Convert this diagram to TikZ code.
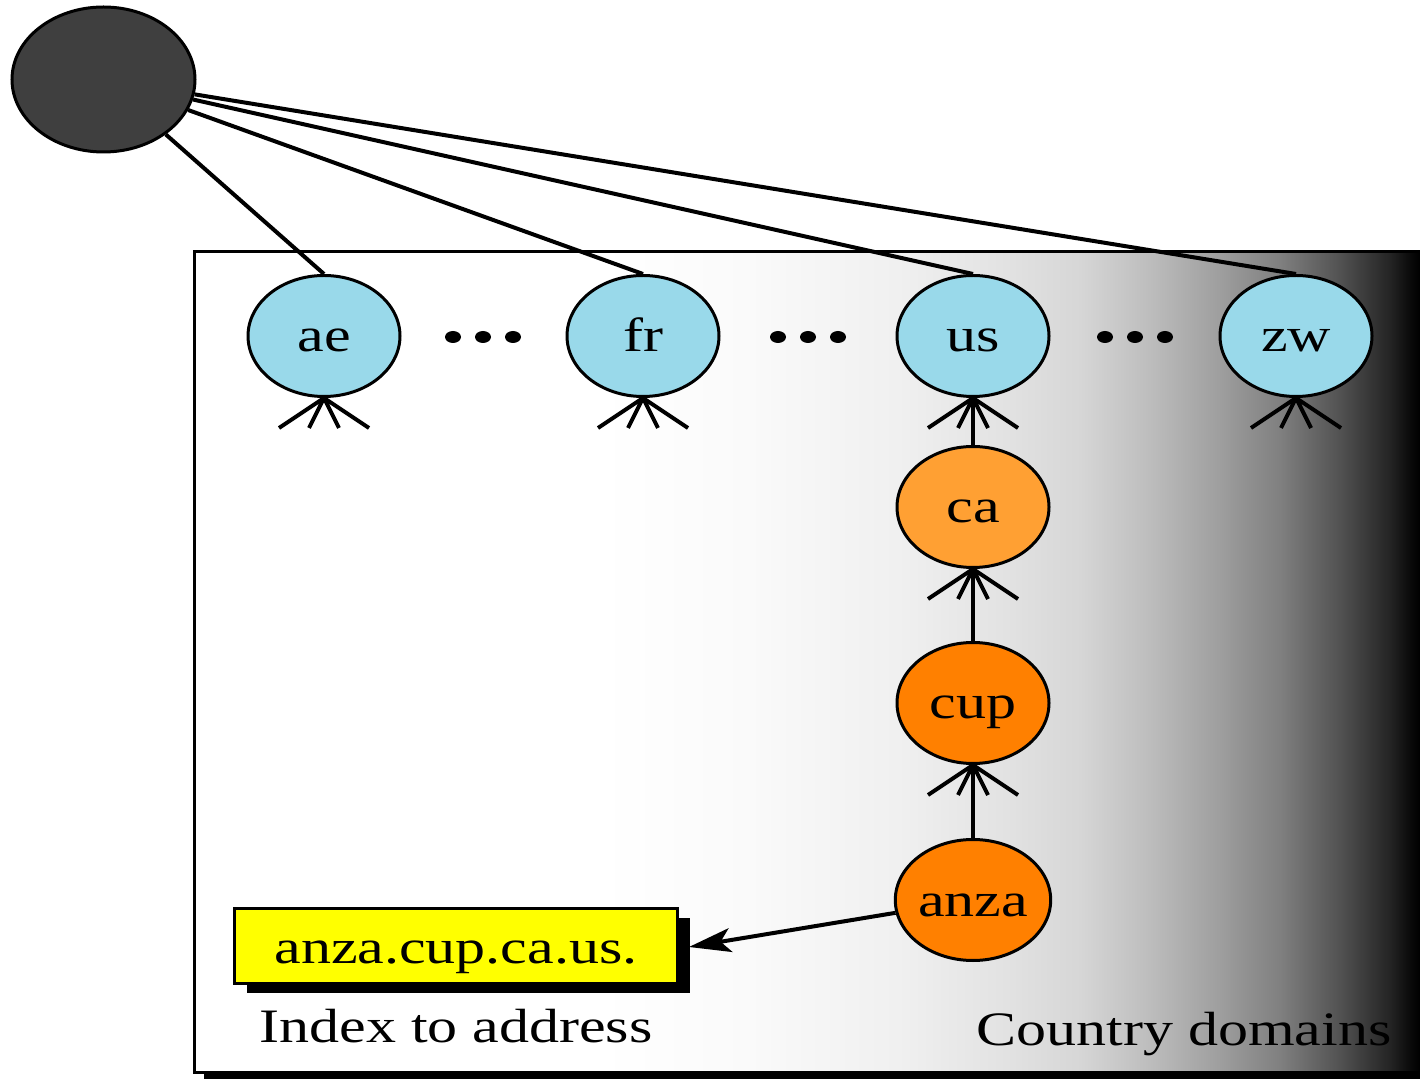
\documentclass[tikz,border=0pt]{standalone}
\usepackage{fontspec}
\setmainfont[FakeStretch=1.25]{Liberation Serif}
\usetikzlibrary{shapes.geometric,arrows.meta,shadows}

\definecolor{rootfill}{HTML}{3F3F3F}
\definecolor{ccfill}{HTML}{99D9EA}
\definecolor{statefill}{HTML}{FFA033}
\definecolor{hostfill}{HTML}{FF8000}
\definecolor{idxfill}{HTML}{FFFF00}

% white on the left, darkening quickly towards the right edge
\pgfdeclarehorizontalshading{domainfade}{100bp}{%
  color(0bp)=(white); color(41.56bp)=(white);
  color(47.68bp)=(white!98!black); color(53.79bp)=(white!94!black);
  color(57.87bp)=(white!89!black); color(61.13bp)=(white!84!black);
  color(63.99bp)=(white!74!black); color(66.84bp)=(white!62!black);
  color(69.29bp)=(white!50!black); color(71.74bp)=(white!32!black);
  color(73.78bp)=(white!14!black); color(74.59bp)=(white!4!black);
  color(75bp)=(black); color(100bp)=(black)}

\tikzset{
  every node/.style={font=\fontsize{24}{28}\selectfont},
  dom/.style={ellipse, draw, line width=1.5pt, inner sep=0pt,
    minimum width=76pt, minimum height=60.5pt, text height=16pt, text depth=0pt},
  cc/.style={dom, fill=ccfill},
  statenode/.style={dom, fill=statefill},
  hostnode/.style={dom, fill=hostfill},
  rootnode/.style={ellipse, draw, line width=1.5pt, fill=rootfill, inner sep=0pt,
    minimum width=91.5pt, minimum height=72.5pt},
  idxbox/.style={rectangle, draw, line width=1.5pt, fill=idxfill, inner sep=0pt,
    minimum width=221.5pt, minimum height=37.5pt, text height=17.5pt, text depth=0pt,
    drop shadow={shadow xshift=6pt, shadow yshift=-5pt, opacity=1, fill=black}},
  edge/.style={line width=2pt},
  crowline/.style={line width=2pt},
  crowfoot/.pic={\draw[crowline] (0,0) -- (-45,30) (0,0) -- (-15,30)
                                 (0,0) -- (15,30) (0,0) -- (45,30);},
  lbl/.style={anchor=base, inner sep=0pt},
}

\begin{document}
\begin{tikzpicture}[x=0.5pt, y=-0.5pt]
\useasboundingbox (0,0) rectangle (1420,1079);

% country-domain panel with its shadow
\fill[black] (204,262) rectangle (1430,1085);
\shade[shading=domainfade] (194,252) rectangle (1420,1072);
\draw[line width=1.5pt] (1420,252) -- (194,252) -- (194,1072) -- (1420,1072);

% nodes
\node[rootnode] (root) at (103.5,79.5) {};
\node[cc] (ae) at (324,336) {ae};
\node[cc] (fr) at (643,336) {fr};
\node[cc] (us) at (973,336) {us};
\node[cc] (zw) at (1296,336) {zw};
\node[statenode] (ca) at (973,507) {ca};
\node[hostnode] (cup) at (973,703) {cup};
\node[hostnode] (anza) at (973,900) {anza};
\node[idxbox] (idx) at (456,945.5) {anza.cup.ca.us.};
\coordinate (idxin) at (689,947);

% ellipsis dots between the country nodes
\foreach \cx in {453,483,513, 778,808,838, 1105,1135,1165}
  \fill (\cx,337) ellipse [x radius=4pt, y radius=3pt];

% root links
\draw[edge] (root) -- (ae.north);
\draw[edge] (root) -- (fr.north);
\draw[edge] (root) -- (us.north);
\draw[edge] (root) -- (zw.north);

% parent links with crow's-foot ends
\draw[edge] (ca) -- (us.south);
\draw[edge] (cup) -- (ca.south);
\draw[edge] (anza) -- (cup.south);
\foreach \n in {ae,fr,us,zw,ca,cup}
  \pic at (\n.south) {crowfoot};

% lookup arrow
\draw[edge, -{Stealth[length=21pt, width=12pt, inset=5pt]}] (anza) -- (idxin);

% captions
\node[lbl] (idxlbl) at (456,1042) {Index to address};
\node[lbl] (cclbl) at (1184,1045) {Country domains};
\end{tikzpicture}
\end{document}
